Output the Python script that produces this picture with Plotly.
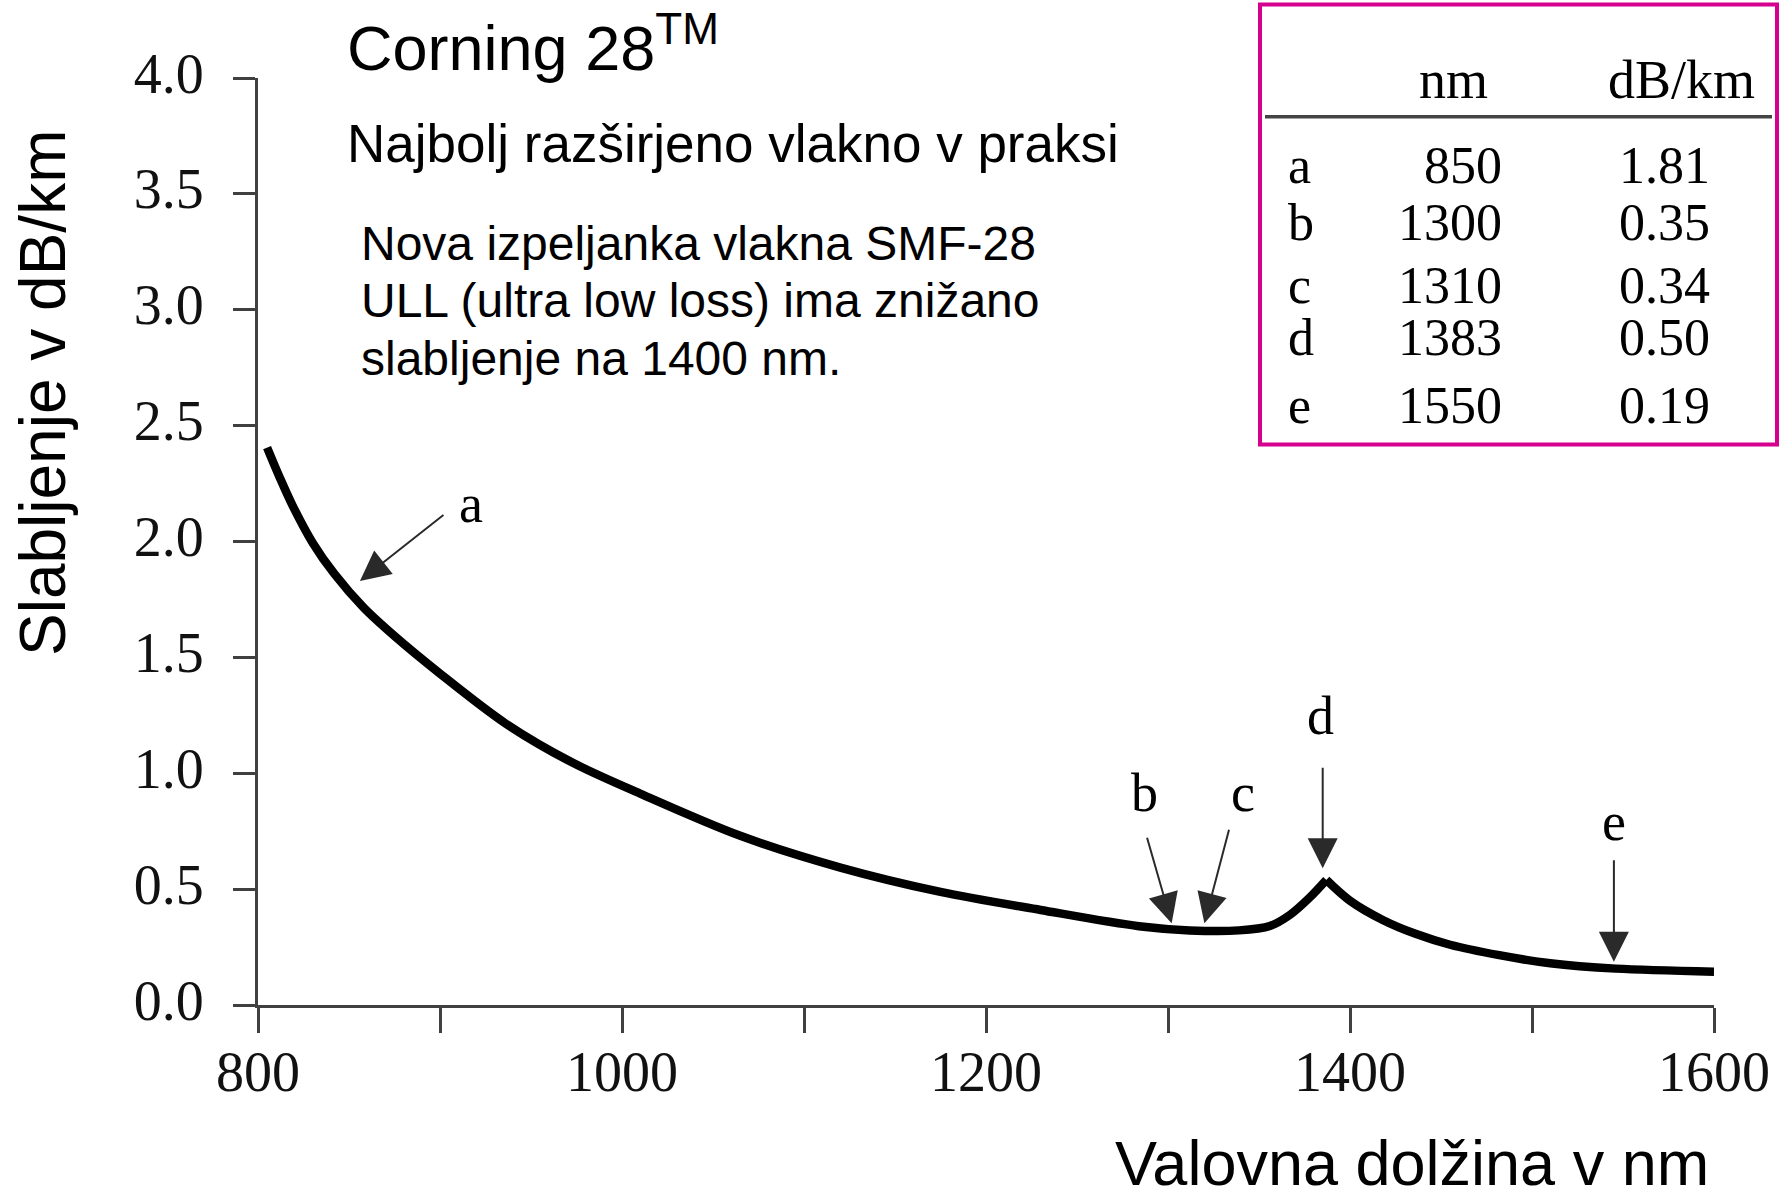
import numpy as np
import plotly.graph_objects as go

# ---------------- data ----------------
wavelength_nm = [805, 812, 819, 830, 842, 858, 875, 900, 936, 973, 1010, 1065, 1120,
                 1175, 1230, 1284, 1312, 1339, 1356, 1367, 1378, 1387,
                 1400, 1418, 1436, 1455, 1482, 1510, 1546, 1600]
attenuation_db = [2.405, 2.275, 2.155, 1.995, 1.86, 1.715, 1.592, 1.43, 1.215, 1.045, 0.912, 0.73, 0.593,
                  0.488, 0.41, 0.34, 0.322, 0.322, 0.341, 0.389, 0.465, 0.54,
                  0.45, 0.367, 0.307, 0.26, 0.215, 0.18, 0.157, 0.144]

table_labels = ["a", "b", "c", "d", "e"]
table_nm = [850, 1300, 1310, 1383, 1550]
table_db = [1.81, 0.35, 0.34, 0.50, 0.19]

y_ticks = [0.0, 0.5, 1.0, 1.5, 2.0, 2.5, 3.0, 3.5, 4.0]
x_ticks = [800, 900, 1000, 1100, 1200, 1300, 1400, 1500, 1600]
x_tick_labels = ["800", "", "1000", "", "1200", "", "1400", "", "1600"]

# ---------------- layout helpers ----------------
W, H = 1789, 1200
L, R, T, B = 258, 75, 78, 195
PW, PH = W - L - R, H - T - B


def px(x):
    return (x - L) / PW


def py(y):
    return (H - B - y) / PH


SANS = "Liberation Sans, Arial, Helvetica, sans-serif"
SERIF = "Liberation Serif, Times New Roman, serif"
AX = "#404040"

wl = np.array(wavelength_nm)
at = np.array(attenuation_db)
peak = int(np.argmax(np.where(wl > 1300, at, -1)))

fig = go.Figure()
for sl in (slice(0, peak + 1), slice(peak, None)):
    fig.add_trace(go.Scatter(
        x=wl[sl], y=at[sl], mode="lines",
        line=dict(color="black", width=8.5, shape="spline", smoothing=0.9),
        hoverinfo="skip", showlegend=False, cliponaxis=False))

annotations = []
# titles / texts
annotations.append(dict(x=px(345), y=py(43), xref="paper", yref="paper",
                        text="Corning 28<sup>TM</sup>", showarrow=False,
                        xanchor="left", yanchor="middle",
                        font=dict(family=SANS, size=63, color="black")))
annotations.append(dict(x=px(345), y=py(143), xref="paper", yref="paper",
                        text="Najbolj razširjeno vlakno v praksi", showarrow=False,
                        xanchor="left", yanchor="middle",
                        font=dict(family=SANS, size=53, color="black")))
for txt, yc in [("Nova izpeljanka vlakna SMF-28", 243),
                ("ULL (ultra low loss) ima znižano", 300),
                ("slabljenje na 1400 nm.", 358)]:
    annotations.append(dict(x=px(359), y=py(yc), xref="paper", yref="paper",
                            text=txt, showarrow=False,
                            xanchor="left", yanchor="middle",
                            font=dict(family=SANS, size=48, color="black")))

# axis titles
annotations.append(dict(x=px(43), y=py(393), xref="paper", yref="paper",
                        text="Slabljenje v dB/km", showarrow=False, textangle=-90,
                        xanchor="center", yanchor="middle",
                        font=dict(family=SANS, size=64, color="black")))
annotations.append(dict(x=px(1711), y=py(1200), xref="paper", yref="paper",
                        text="Valovna dolžina v nm", showarrow=False,
                        xanchor="right", yanchor="bottom",
                        font=dict(family=SANS, size=63, color="black")))

# arrows pointing to curve (tip in data coords, tail as pixel offset)
arrows = [  # label, tip x, tip y, ax, ay, text x, text y
    ("a", 856, 1.83, 85, -67, 917, 2.16),
    ("b", 1302, 0.353, -25, -87, 1287, 0.915),
    ("c", 1320, 0.353, 25, -95, 1341, 0.915),
    ("d", 1385, 0.59, 0, -102, 1384, 1.245),
    ("e", 1545, 0.187, 0, -103, 1545, 0.79),
]
for lab, tx, ty, ax, ay, lx, ly in arrows:
    annotations.append(dict(x=tx, y=ty, xref="x", yref="y", text="",
                            showarrow=True, ax=ax, ay=ay, arrowhead=2,
                            arrowsize=3, arrowwidth=2, arrowcolor="#2a2a2a",
                            standoff=0))
    annotations.append(dict(x=lx, y=ly, xref="x", yref="y", text=lab,
                            showarrow=False, xanchor="center", yanchor="middle",
                            font=dict(family=SERIF, size=54, color="black")))

# table
annotations.append(dict(x=px(1453), y=py(80), xref="paper", yref="paper", text="nm",
                        showarrow=False, xanchor="center", yanchor="middle",
                        font=dict(family=SERIF, size=54, color="black")))
annotations.append(dict(x=px(1757), y=py(80), xref="paper", yref="paper", text="dB/km",
                        showarrow=False, xanchor="right", yanchor="middle",
                        font=dict(family=SERIF, size=54, color="black")))
row_centers = [165, 222, 285, 337, 405]
for lab, nm, db, yc in zip(table_labels, table_nm, table_db, row_centers):
    f = dict(family=SERIF, size=52, color="black")
    annotations.append(dict(x=px(1286), y=py(yc), xref="paper", yref="paper", text=lab,
                            showarrow=False, xanchor="left", yanchor="middle", font=f))
    annotations.append(dict(x=px(1504), y=py(yc), xref="paper", yref="paper", text=str(nm),
                            showarrow=False, xanchor="right", yanchor="middle", font=f))
    annotations.append(dict(x=px(1712), y=py(yc), xref="paper", yref="paper",
                            text=f"{db:.2f}",
                            showarrow=False, xanchor="right", yanchor="middle", font=f))

shapes = [
    dict(type="rect", xref="paper", yref="paper", x0=px(1260), x1=px(1777),
         y0=py(4.5), y1=py(444.5), line=dict(color="#D6008F", width=4),
         fillcolor="rgba(0,0,0,0)"),
    dict(type="line", xref="paper", yref="paper", x0=px(1265), x1=px(1772),
         y0=py(116.7), y1=py(116.7), line=dict(color="#444444", width=3.5)),
]

fig.update_layout(
    width=W, height=H,
    margin=dict(l=L, r=R, t=T, b=B, pad=0),
    paper_bgcolor="white", plot_bgcolor="white",
    annotations=annotations, shapes=shapes,
    xaxis=dict(range=[800, 1600], tickvals=x_ticks, ticktext=x_tick_labels,
               showgrid=False, zeroline=False, showline=True, linecolor=AX, linewidth=3,
               ticks="outside", ticklen=25, tickwidth=2.5, tickcolor=AX,
               tickfont=dict(family=SERIF, size=56, color="#111111"),
               ticklabelstandoff=-9),
    yaxis=dict(range=[0, 4], tickvals=y_ticks, ticktext=[f"{v:.1f}" for v in y_ticks],
               showgrid=False, zeroline=False, showline=True, linecolor=AX, linewidth=3,
               ticks="outside", ticklen=22, tickwidth=2.5, tickcolor=AX,
               tickfont=dict(family=SERIF, size=56, color="#111111"),
               ticklabelstandoff=18, ticklabelshift=-5),
)

fig.write_html("out.html")
